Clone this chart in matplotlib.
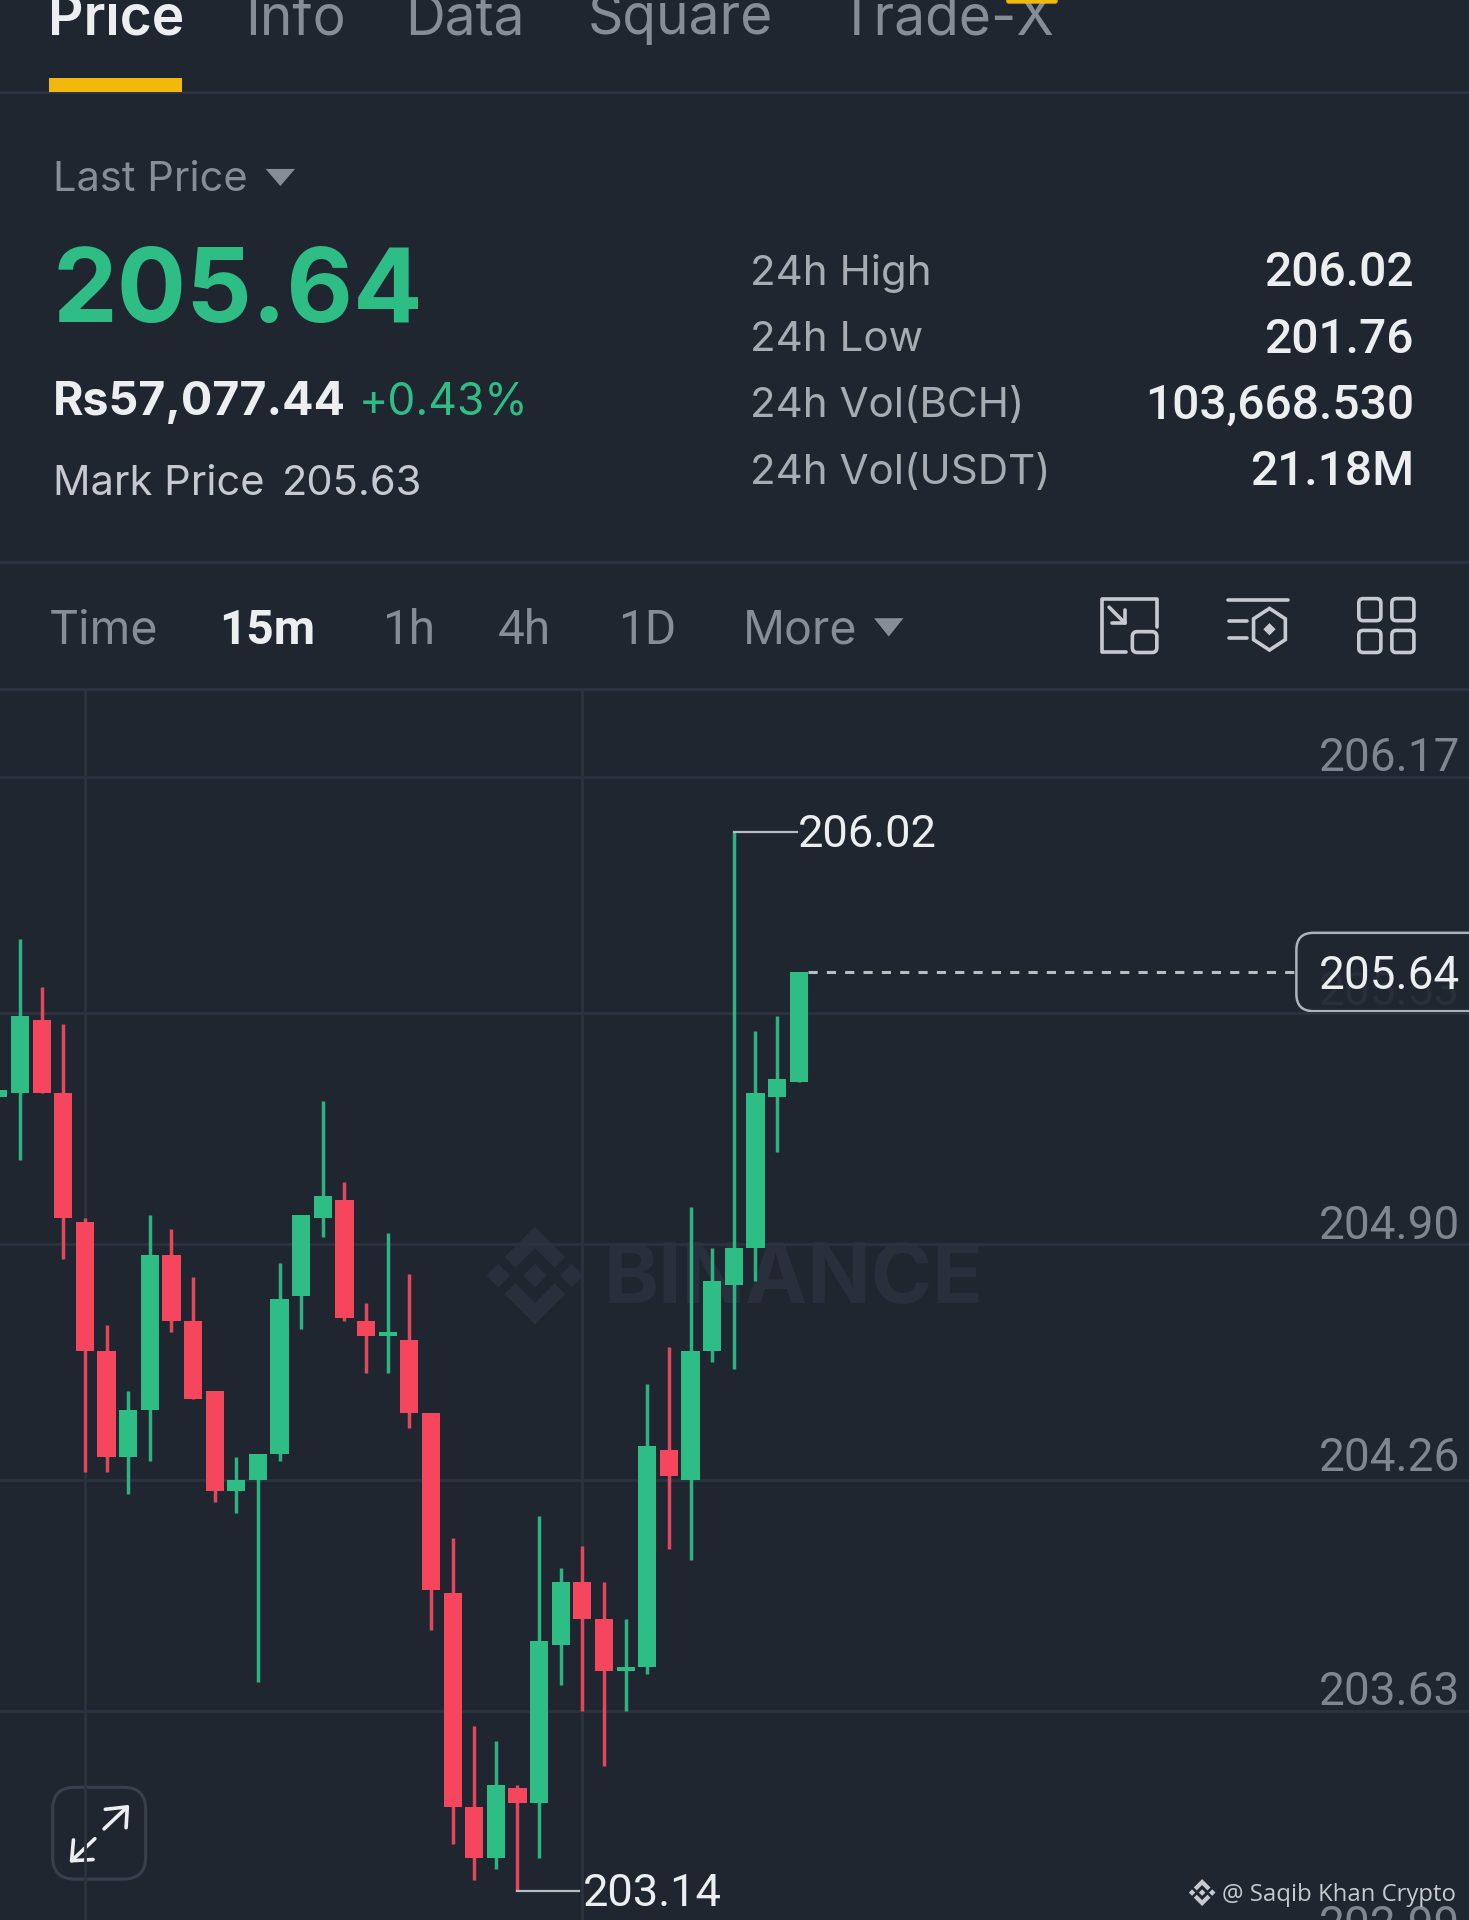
import numpy as np
import matplotlib
matplotlib.use('Agg')
import matplotlib.pyplot as plt
from matplotlib.patches import FancyBboxPatch, Polygon, Rectangle

# candles, 15m (first one is cut by the left edge)
opens = [205.30, 205.31, 205.51, 205.31, 204.96, 204.61, 204.32, 204.45, 204.87, 204.69,
         204.50, 204.23, 204.26, 204.33, 204.76, 204.97, 205.02, 204.69, 204.65, 204.64,
         204.44, 203.95, 203.37, 203.23, 203.42, 203.38, 203.81, 203.98, 203.88, 203.74,
         203.75, 204.34, 204.26, 204.61, 204.79, 204.89, 205.30, 205.34]
closes = [205.32, 205.52, 205.31, 204.97, 204.61, 204.32, 204.45, 204.87, 204.69, 204.48,
          204.23, 204.26, 204.33, 204.75, 204.98, 205.03, 204.70, 204.65, 204.66, 204.44,
          203.96, 203.37, 203.23, 203.43, 203.38, 203.82, 203.98, 203.88, 203.74, 203.75,
          204.35, 204.27, 204.61, 204.80, 204.89, 205.31, 205.35, 205.64]
highs = [205.36, 205.73, 205.60, 205.50, 204.97, 204.68, 204.50, 204.98, 204.94, 204.81,
         204.50, 204.32, 204.33, 204.85, 204.98, 205.29, 205.07, 204.74, 204.93, 204.82,
         204.44, 204.10, 203.59, 203.55, 203.43, 204.16, 204.02, 204.08, 203.98, 203.88,
         204.52, 204.62, 205.00, 204.89, 206.02, 205.48, 205.52, 205.64]
lows = [204.92, 205.13, 205.31, 204.86, 204.28, 204.28, 204.22, 204.31, 204.66, 204.48,
        204.20, 204.17, 203.71, 204.31, 204.67, 204.92, 204.69, 204.55, 204.55, 204.40,
        203.85, 203.27, 203.17, 203.20, 203.14, 203.23, 203.70, 203.63, 203.48, 203.63,
        203.73, 204.07, 204.04, 204.58, 204.56, 204.80, 205.15, 205.34]

axis_prices = [206.17, 205.53, 204.90, 204.26, 203.63, 202.99]
grid_prices = [206.17, 205.53, 204.90, 204.26, 203.63]
grid_candles = [3, 26]
high_price = 206.02
low_price = 203.14
last_price = 205.64

top_tabs = ['Price', 'Info', 'Data', 'Square', 'Trade-X']
time_tabs = ['Time', '15m', '1h', '4h', '1D', 'More']
stat_names = ['24h High', '24h Low', '24h Vol(BCH)', '24h Vol(USDT)']
stat_values = ['206.02', '201.76', '103,668.530', '21.18M']

BG = '#1f2630'
GRID = '#2c333e'
GREEN = '#2ebd85'
RED = '#f6465d'
GREY = '#868d97'
LIGHT = '#c6cad0'
WHITE = '#eceef0'
NUM = ['Roboto', 'DejaVu Sans']  # digits all the same width, like the app font

plt.rcParams['font.family'] = ['Inter', 'DejaVu Sans']

W, H = 1469, 1920
K = W / 1200  # the ui layer is laid out in 1200 wide units

fig = plt.figure(figsize=(W / 100, H / 100), dpi=100, facecolor=BG)

# ui layer in picture units, under the chart so the watermark stays behind candles
ui = fig.add_axes([0, 0, 1, 1], facecolor='none', zorder=1)
ui.set_xlim(0, 1200)
ui.set_ylim(H / K, 0)
ui.axis('off')

# chart part, real price and candle scales
ax = fig.add_axes([0, 0, 1, 1 - 689 / H], facecolor='none', zorder=2)
ax.set_xlim(-0.925, 66.99)
ax.set_ylim(203.062, 206.410)
ax.axis('off')

for p in grid_prices:
    ax.axhline(p, color=GRID, lw=2, zorder=1)
for c in grid_candles:
    ax.axvline(c, color=GRID, lw=2, zorder=1)

idx = np.arange(len(opens)) - 1
for i, o, c, h, l in zip(idx, opens, closes, highs, lows):
    col = GREEN if c >= o else RED
    wick = '#2db381' if c >= o else '#e2475c'
    ax.vlines(i, l, h, color=wick, lw=2.5, zorder=3)
    ax.bar(i, abs(c - o), bottom=min(o, c), width=0.84, color=col, zorder=4)

hi_i = idx[int(np.argmax(highs))]
lo_i = idx[int(np.argmin(lows))]
ax.plot([hi_i, hi_i + 2.9], [high_price, high_price], color='#b9bdc3', lw=1.6, zorder=5)
ax.plot([lo_i, lo_i + 2.85], [low_price, low_price], color='#b9bdc3', lw=1.6, zorder=5)
ax.annotate(f'{high_price:.2f}', (hi_i + 2.95, high_price), xytext=(0, -2), textcoords='offset points',
            color=WHITE, fontsize=32.6, va='center', family=NUM, zorder=6)
ax.annotate(f'{low_price:.2f}', (lo_i + 3.0, low_price), xytext=(0, -2), textcoords='offset points',
            color=WHITE, fontsize=32.6, va='center', family=NUM, zorder=6)
ax.plot([idx[-1] + 0.45, 59.0], [last_price, last_price], color='#b9bdc3', lw=2.2,
        dashes=(3, 3), zorder=5)


def fs(px):
    return px * K * 0.72


def label(x, y, s, size=34, color=GREY, ha='left', weight='normal', zorder=10, family=None):
    ui.text(x, y, s, fontsize=fs(size), color=color, ha=ha, va='baseline', fontweight=weight,
            zorder=zorder, family=family)


def box(x0, y0, x1, y1, r, edge, lw=2.2, face='none', zorder=9):
    ui.add_patch(FancyBboxPatch((x0 + r, y0 + r), x1 - x0 - 2 * r, y1 - y0 - 2 * r,
                                boxstyle=f'round,pad={r},rounding_size={r}',
                                fc=face, ec=edge, lw=lw, zorder=zorder))


def line(xs, ys, color=LIGHT, lw=2.6, zorder=10):
    ui.plot(xs, ys, color=color, lw=lw, solid_capstyle='round', solid_joinstyle='round', zorder=zorder)


def diamond(cx, cy, r, color, zorder):
    ui.add_patch(Polygon([(cx - r, cy), (cx, cy - r), (cx + r, cy), (cx, cy + r)], fc=color, ec='none', zorder=zorder))


def logo(cx, cy, s, color, zorder=2):
    diamond(cx, cy, 0.24 * s, color, zorder)
    diamond(cx - 0.75 * s, cy, 0.24 * s, color, zorder)
    diamond(cx + 0.75 * s, cy, 0.24 * s, color, zorder)
    for sign in (-1, 1):
        ui.add_patch(Polygon([(cx - 0.62 * s, cy + sign * 0.38 * s), (cx, cy + sign * s),
                              (cx + 0.62 * s, cy + sign * 0.38 * s), (cx + 0.4 * s, cy + sign * 0.16 * s),
                              (cx, cy + sign * 0.56 * s), (cx - 0.4 * s, cy + sign * 0.16 * s)],
                             fc=color, ec='none', zorder=zorder))


# top tabs
for s, x in zip(top_tabs, [39, 200, 331, 480, 685]):
    active = s == 'Price'
    label(x, 28, s, size=45, color=WHITE if active else GREY, weight='semibold' if active else 'normal')
ui.add_patch(Rectangle((40, 64), 109, 11, fc='#f0b90b', ec='none', zorder=10))
ui.add_patch(FancyBboxPatch((824, -6), 38, 7, boxstyle='round,pad=2', fc='#f0b90b', ec='none', zorder=10))
for y in [75, 459, 563]:
    ui.plot([0, 1200], [y, y], color='#2d343f', lw=2, zorder=8)

# price header
label(43, 156, 'Last Price', size=34)
ui.add_patch(Polygon([(217, 138), (241, 138), (229, 152)], fc=GREY, ec='none'))
label(43, 263, '205.64', size=84, color=GREEN, weight='bold')
label(43, 339, 'Rs57,077.44', size=38, color=WHITE, weight='bold')
label(293, 339, '+0.43%', size=36.2, color=GREEN)
label(43, 404, 'Mark Price', size=34, color=LIGHT)
label(230, 404, '205.63', size=34, color=LIGHT)
for s, v, y in zip(stat_names, stat_values, [233, 287, 341, 395]):
    label(613, y, s, size=34.4, color='#a7acb3')
    label(1155, y + 1, v, size=39.2, color=WHITE, ha='right', weight='medium', family=NUM)

# interval row
for s, x in zip(time_tabs, [40, 179, 312, 407, 505, 607]):
    active = s == '15m'
    numeric = s in ('15m', '1h', '4h', '1D')
    label(x, 526, s, size=39 if numeric else 38, color=WHITE if active else GREY,
          weight='bold' if active else 'normal', family=NUM if numeric else None)
ui.add_patch(Polygon([(714, 505), (738, 505), (726, 520)], fc=GREY, ec='none'))

# icons
line([920, 900, 900, 945, 945], [533, 533, 489, 489, 512])
box(925, 516, 945, 533, 4, LIGHT, lw=2.6, zorder=10)
line([906, 919], [496, 509])
line([919, 919, 908], [498, 509, 509])
line([1003, 1052], [490, 490])
line([1004, 1019], [507, 507])
line([1004, 1019], [521, 521])
ang = np.radians(np.arange(6) * 60 + 90)
hx = 1037 + 15 * np.cos(ang)
hy = 514 + 17 * np.sin(ang)
ui.add_patch(Polygon(np.c_[hx, hy], fc='none', ec=LIGHT, lw=2.6, zorder=10))
ui.add_patch(Polygon([(1032, 514), (1037, 509), (1042, 514), (1037, 519)], fc=LIGHT, ec='none', zorder=10))
for x0 in (1110, 1137):
    for y0 in (489, 515):
        box(x0, y0, x0 + 18, y0 + 18, 3.5, LIGHT, lw=2.6, zorder=10)

# watermark
logo(437, 1042, 40, '#29303b')
label(493, 1064, 'BINANCE', size=68, color='#29303b', weight='bold', zorder=2)

# price axis labels
for p, y in zip(axis_prices, [630, 821, 1012, 1202, 1393, 1584]):
    label(1193, y, f'{p:.2f}', size=37.5, color='#7f868f', ha='right', zorder=6, family=NUM)

# current price tag
box(1059, 762, 1230, 826, 14, '#aeb3ba', lw=1.8, face=BG + 'e6', zorder=7)
label(1193, 808, f'{last_price:.2f}', size=37.5, color=WHITE, ha='right', zorder=8, family=NUM)

# expand button
box(43, 1460, 119, 1535, 18, '#39404c', zorder=9)
line([85, 104], [1494, 1476], color=WHITE)
line([86, 104, 103], [1478, 1476, 1493], color=WHITE)
line([77.5, 58.5], [1502, 1520], color=WHITE)
line([60, 58.5, 76], [1503, 1520, 1519], color=WHITE)

# corner credit
logo(982, 1546, 11, LIGHT, zorder=12)
label(998, 1553, '@ Saqib Khan Crypto', size=19.5, color=LIGHT, zorder=12, family=['Open Sans', 'DejaVu Sans'])

fig.savefig('out.png', dpi=100, facecolor=BG)
